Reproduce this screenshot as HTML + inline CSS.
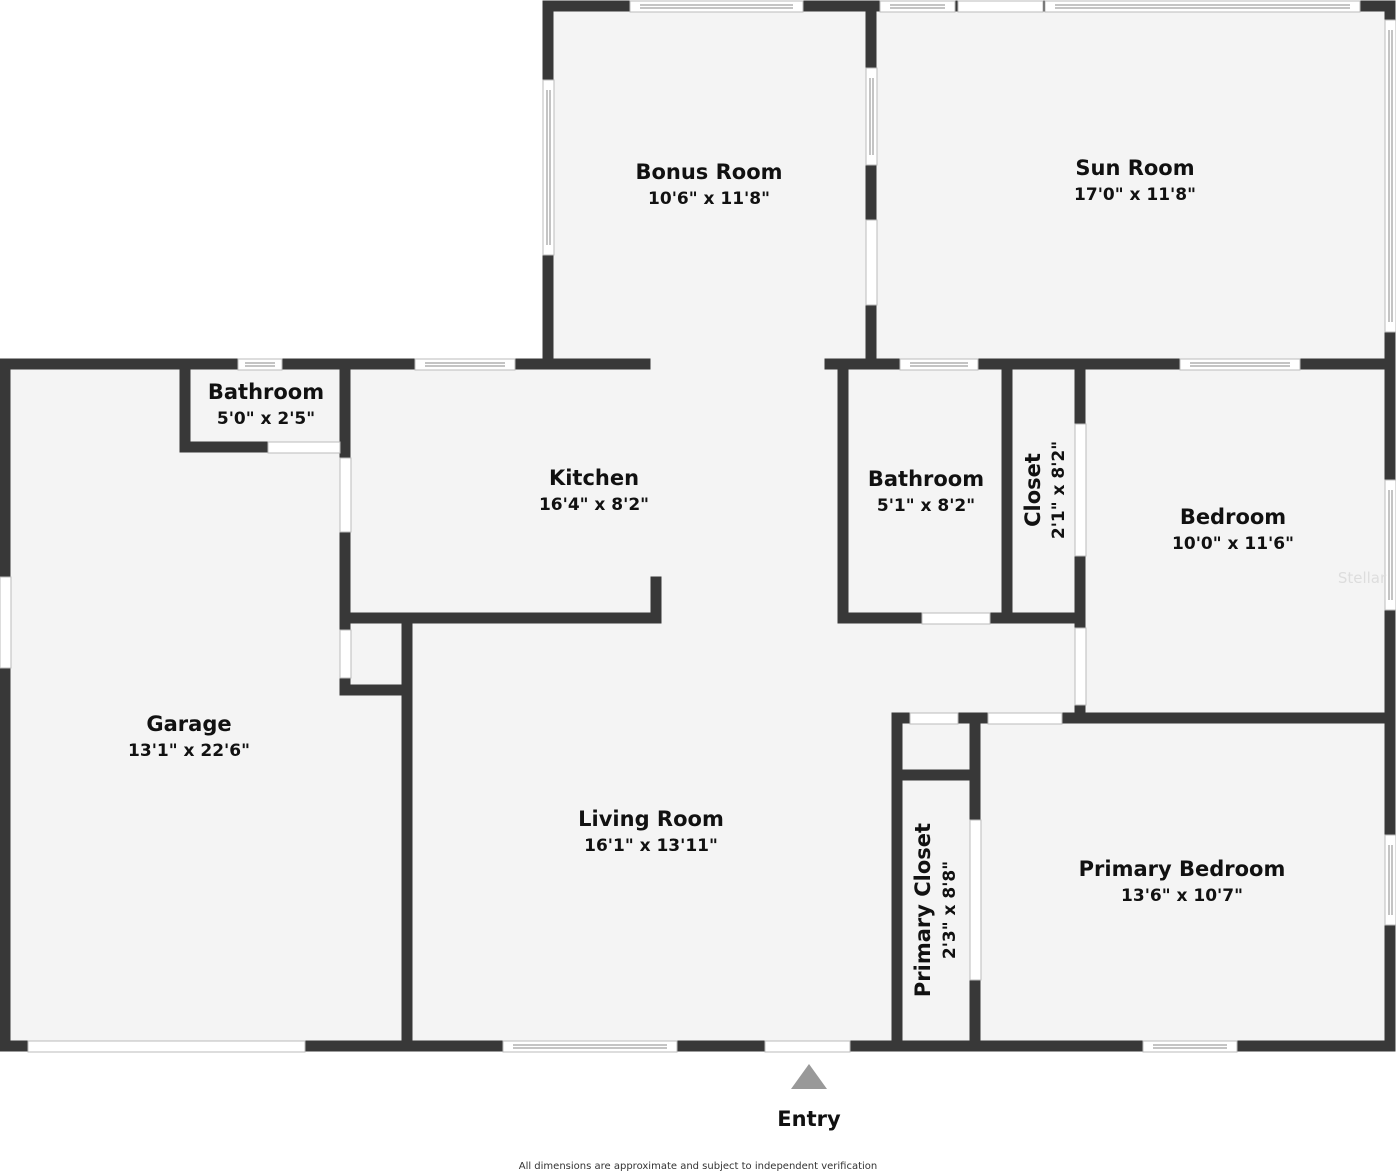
<!DOCTYPE html>
<html><head><meta charset="utf-8"><style>
html,body{margin:0;padding:0;background:#fff;}
svg{display:block}
text{font-family:"DejaVu Sans","Liberation Sans",sans-serif;fill:#111;font-weight:bold;text-anchor:middle}
.t{font-size:21px}
.d{font-size:17px}
</style></head><body>
<svg width="1396" height="1171" viewBox="0 0 1396 1171" xmlns="http://www.w3.org/2000/svg">
<!-- floors -->
<g fill="#f4f4f4">
<rect x="548" y="6" width="845" height="360"/>
<rect x="5" y="364" width="1388" height="682"/>
</g>
<!-- walls -->
<g stroke="#383838" stroke-width="11" stroke-linecap="square" fill="none">
<path d="M548 6 H1390 V1046 H5 V364 H645"/>
<path d="M548 6 V364"/>
<path d="M871 6 V364"/>
<path d="M830 364 H1390"/>
<path d="M185 364 V447 H345"/>
<path d="M345 364 V690 H407"/>
<path d="M345 618 H656 V582"/>
<path d="M407 622 V1046"/>
<path d="M843 364 V618 H1080"/>
<path d="M1007 364 V618"/>
<path d="M1080 364 V718 H1390"/>
<path d="M897 718 H1080"/>
<path d="M897 718 V1046"/>
<path d="M975 718 V1046"/>
<path d="M897 775 H975"/>
</g>
<!-- openings (white) -->
<g fill="#fff" stroke="#bbb" stroke-width="1">
<rect x="630" y="1" width="173" height="11"/>
<rect x="880" y="1" width="75" height="11"/>
<rect x="958" y="1" width="85" height="11"/>
<rect x="1045" y="1" width="315" height="11"/>
<rect x="543" y="80" width="11" height="175"/>
<rect x="866" y="68" width="11" height="97"/>
<rect x="866" y="220" width="11" height="85"/>
<rect x="1385" y="20" width="11" height="312"/>
<rect x="238" y="359" width="44" height="11"/>
<rect x="415" y="359" width="100" height="11"/>
<rect x="900" y="359" width="78" height="11"/>
<rect x="1180" y="359" width="120" height="11"/>
<rect x="0" y="577" width="11" height="91"/>
<rect x="268" y="442" width="72" height="11"/>
<rect x="340" y="458" width="11" height="74"/>
<rect x="340" y="630" width="11" height="48"/>
<rect x="1075" y="424" width="11" height="132"/>
<rect x="1075" y="628" width="11" height="77"/>
<rect x="1385" y="480" width="11" height="130"/>
<rect x="922" y="613" width="68" height="11"/>
<rect x="910" y="713" width="48" height="11"/>
<rect x="988" y="713" width="74" height="11"/>
<rect x="970" y="820" width="11" height="160"/>
<rect x="1385" y="835" width="11" height="90"/>
<rect x="28" y="1041" width="277" height="11"/>
<rect x="503" y="1041" width="174" height="11"/>
<rect x="765" y="1041" width="85" height="11"/>
<rect x="1143" y="1041" width="94" height="11"/>
</g>
<!-- window center lines -->
<g stroke="#888" stroke-width="1">
<path d="M640 5H793M640 8H793M890 5H945M890 8H945M1055 5H1350M1055 8H1350"/>
<path d="M547 90V245M550 90V245M870 78V155M873 78V155M1389 30V322M1392 30V322"/>
<path d="M245 363H275M245 366H275M425 363H505M425 366H505M910 363H968M910 366H968M1190 363H1290M1190 366H1290"/>
<path d="M1389 490V600M1392 490V600M1389 845V915M1392 845V915"/>
<path d="M513 1045H667M513 1048H667M1153 1045H1227M1153 1048H1227"/>
</g>
<!-- labels -->
<text class="t" x="709" y="179">Bonus Room</text><text class="d" x="709" y="204">10'6" x 11'8"</text>
<text class="t" x="1135" y="175">Sun Room</text><text class="d" x="1135" y="200">17'0" x 11'8"</text>
<text class="t" x="266" y="399">Bathroom</text><text class="d" x="266" y="424">5'0" x 2'5"</text>
<text class="t" x="594" y="485">Kitchen</text><text class="d" x="594" y="510">16'4" x 8'2"</text>
<text class="t" x="926" y="486">Bathroom</text><text class="d" x="926" y="511">5'1" x 8'2"</text>
<text class="t" x="1040" y="490" transform="rotate(-90 1040 490)">Closet</text>
<text class="d" x="1064" y="490" transform="rotate(-90 1064 490)">2'1" x 8'2"</text>
<text class="t" x="1233" y="524">Bedroom</text><text class="d" x="1233" y="549">10'0" x 11'6"</text>
<text class="t" x="189" y="731">Garage</text><text class="d" x="189" y="756">13'1" x 22'6"</text>
<text class="t" x="651" y="826">Living Room</text><text class="d" x="651" y="851">16'1" x 13'11"</text>
<text class="t" x="930" y="910" transform="rotate(-90 930 910)">Primary Closet</text>
<text class="d" x="955" y="910" transform="rotate(-90 955 910)">2'3" x 8'8"</text>
<text class="t" x="1182" y="876">Primary Bedroom</text><text class="d" x="1182" y="901">13'6" x 10'7"</text>
<polygon points="791,1089 809,1064 827,1089" fill="#999"/>
<text class="t" x="809" y="1126">Entry</text>
<text x="698" y="1169" style="font-size:10px;font-weight:normal;fill:#333">All dimensions are approximate and subject to independent verification</text>
<text x="1362" y="583" style="font-size:15px;font-weight:normal;fill:#ddd">Stellar</text>
</svg>
</body></html>
